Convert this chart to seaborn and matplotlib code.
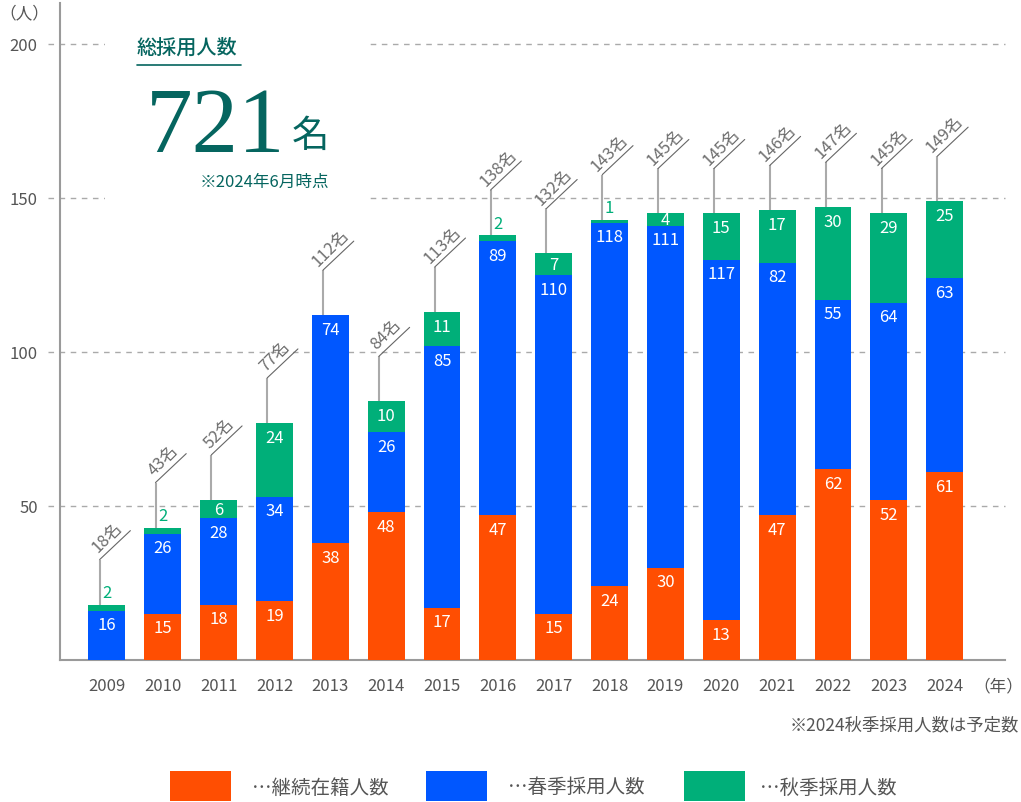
import numpy as np
import pandas as pd
import matplotlib
matplotlib.use("Agg")
import matplotlib.pyplot as plt
from matplotlib.patches import Rectangle
from matplotlib.lines import Line2D
import seaborn as sns

# ---------------- data ----------------
years = ["2009", "2010", "2011", "2012", "2013", "2014", "2015", "2016",
         "2017", "2018", "2019", "2020", "2021", "2022", "2023", "2024"]
continuing = [0, 15, 18, 19, 38, 48, 17, 47, 15, 24, 30, 13, 47, 62, 52, 61]
spring = [16, 26, 28, 34, 74, 26, 85, 89, 110, 118, 111, 117, 82, 55, 64, 63]
autumn = [2, 2, 6, 24, 0, 10, 11, 2, 7, 1, 4, 15, 17, 30, 29, 25]
yticks = [50, 100, 150, 200]
total_hires = 721
series_names = ["…継続在籍人数", "…春季採用人数", "…秋季採用人数"]

ORANGE = "#FF4E02"
BLUE = "#0057FF"
GREEN = "#00AF79"
TEAL = "#05655F"
GRAY_TXT = "#555555"

sns.set_theme(style="white")
plt.rcParams["font.family"] = ["Noto Sans CJK JP", "DejaVu Sans"]

W, H = 1021, 803
fig = plt.figure(figsize=(W / 100, H / 100), dpi=100)


def fx(px):
    return px / W


def fy(py):
    return 1 - py / H


ax = fig.add_axes([fx(60), fy(661), (1005 - 60) / W, (661 - 4) / H])

df = pd.DataFrame({"year": years, "cont": continuing, "spring": spring, "autumn": autumn})
b1 = np.array(continuing, dtype=float)
b2 = b1 + np.array(spring, dtype=float)
totals = b2 + np.array(autumn, dtype=float)

bw = 0.66
sns.barplot(data=df, x="year", y="cont", color=ORANGE, saturation=1, width=bw,
            errorbar=None, ax=ax, linewidth=0, zorder=3)
sns.barplot(data=df, x="year", y="spring", bottom=b1, color=BLUE, saturation=1, width=bw,
            errorbar=None, ax=ax, linewidth=0, zorder=3)
sns.barplot(data=df, x="year", y="autumn", bottom=b2, color=GREEN, saturation=1, width=bw,
            errorbar=None, ax=ax, linewidth=0, zorder=3)

ax.set_xlim(-0.84, 16.08)
ax.set_ylim(0, (661 - 4) / 3.08)
ax.set_xlabel("")
ax.set_ylabel("")

# gridlines (extend slightly left of the spine)
for yv in yticks:
    ax.axhline(yv, xmin=(48 - 60) / 945, xmax=1, clip_on=False, ls=(0, (4, 4)),
               color="#AAAAAA", lw=1, zorder=1)

ax.set_yticks(yticks)
ax.set_yticklabels([str(v) for v in yticks])
ax.tick_params(axis="y", length=0, pad=16, labelsize=12, labelcolor=GRAY_TXT)
ax.tick_params(axis="x", length=0, pad=12, labelsize=12, labelcolor=GRAY_TXT)
for s in ["top", "right"]:
    ax.spines[s].set_visible(False)
for s in ["left", "bottom"]:
    ax.spines[s].set_color("#9A9A9A")
    ax.spines[s].set_linewidth(1.5)
ax.grid(False)

# segment labels
lab_off = 4.6
for i in range(len(years)):
    layers = [(continuing[i], b1[i], "cont"), (spring[i], b2[i], "spring"),
              (autumn[i], totals[i], "autumn")]
    for v, top, name in layers:
        if v == 0:
            continue
        if name == "autumn" and v <= 2:
            ax.text(i, top + 1.0, str(v), ha="center", va="bottom", color=GREEN,
                    fontsize=12, zorder=5)
        else:
            ax.text(i, top - min(lab_off, v / 2), str(v), ha="center", va="center",
                    color="white", fontsize=12, zorder=5)

# leader lines + total labels
for i in range(len(years)):
    top = totals[i]
    x0 = i - 0.13
    y1 = top + 14.6
    x2 = x0 + 0.55
    y2 = y1 + 9.4
    ax.plot([x0, x0], [top, y1], color="#AAAAAA", lw=1.5, zorder=4, clip_on=False,
            solid_capstyle="butt")
    ax.plot([x0, x2], [y1, y2], color="#666666", lw=0.8, zorder=4, clip_on=False)
    ax.annotate(f"{int(top)}名", xy=((x0 + x2) / 2, (y1 + y2) / 2),
                xytext=(-1.5, 1.5), textcoords="offset points",
                rotation=45, rotation_mode="anchor", ha="center", va="bottom",
                fontsize=12, color="#6E6E6E", zorder=5)

# inset white box
ax.add_patch(Rectangle((fx(105), fy(202)), (367 - 105) / W, (202 - 16) / H,
                       transform=fig.transFigure, facecolor="white", edgecolor="none",
                       zorder=2, clip_on=False))

fig.text(fx(137), fy(48), "総採用人数", ha="left", va="center", fontsize=14.5,
         color=TEAL, fontweight="medium")
fig.add_artist(Line2D([fx(137), fx(241)], [fy(66), fy(66)], color=TEAL, lw=1.2))
fig.text(fx(146), fy(152), str(total_hires), ha="left", va="baseline", fontsize=67,
         color=TEAL, family=["Liberation Serif", "DejaVu Serif"])
fig.text(fx(292), fy(147), "名", ha="left", va="baseline", fontsize=27, color=TEAL)
fig.text(fx(329), fy(182), "※2024年6月時点", ha="right", va="center", fontsize=12,
         color=TEAL)

# axis annotations
fig.text(fx(24), fy(14), "（人）", ha="center", va="center", fontsize=12, color=GRAY_TXT)
fig.text(fx(998), fy(687), "（年）", ha="center", va="center", fontsize=12, color=GRAY_TXT)
fig.text(fx(1019), fy(725), "※2024秋季採用人数は予定数", ha="right", va="center",
         fontsize=12.5, color=GRAY_TXT)

# legend
leg_rect_x = [170, 426, 684]
leg_text_x = [252, 508, 760]
for rx, tx, col, name in zip(leg_rect_x, leg_text_x, [ORANGE, BLUE, GREEN], series_names):
    fig.add_artist(Rectangle((fx(rx), fy(802)), 61 / W, 30 / H, transform=fig.transFigure,
                             facecolor=col, edgecolor="none"))
    fig.text(fx(tx), fy(788), name, ha="left", va="center", fontsize=14, color=GRAY_TXT)

fig.savefig("out.png", dpi=100)
